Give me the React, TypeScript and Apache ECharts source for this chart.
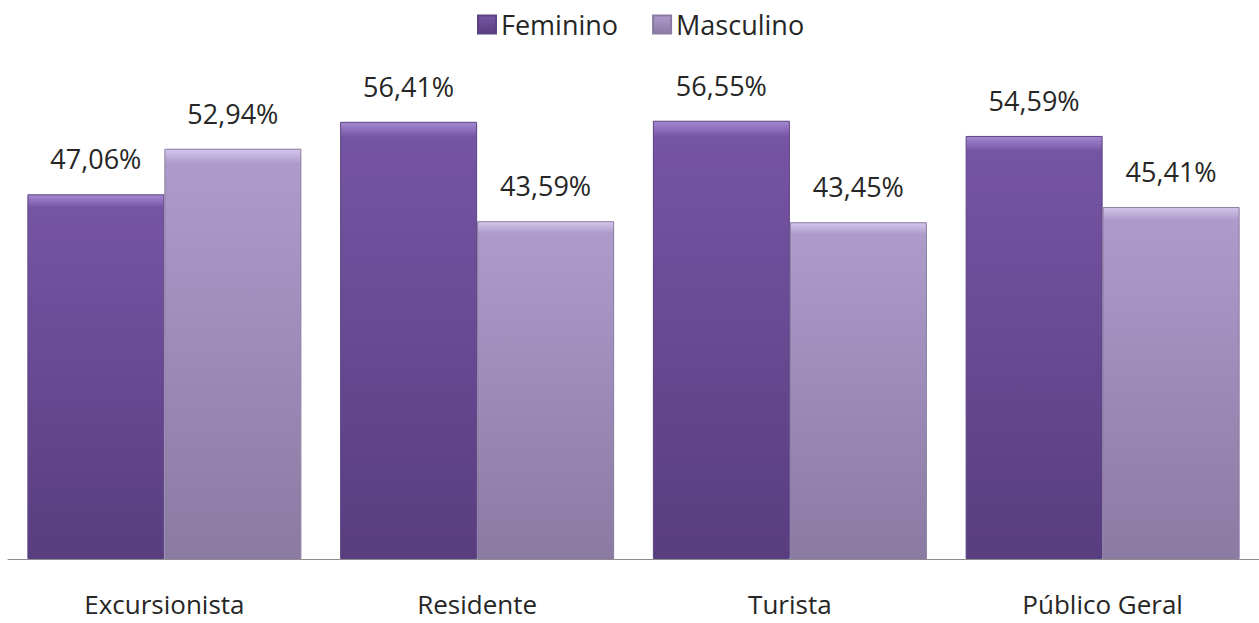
import React, { useEffect, useRef } from "react";
import * as echarts from "echarts";

const categories = ["Excursionista", "Residente", "Turista", "Público Geral"];
const feminino = [47.06, 56.41, 56.55, 54.59];
const masculino = [52.94, 43.59, 43.45, 45.41];
const seriesNames = ["Feminino", "Masculino"];

const FONT = "'Open Sans', sans-serif";

function grad(top: string, mid: string, bottom: string) {
  return new echarts.graphic.LinearGradient(0, 0, 0, 1, [
    { offset: 0, color: top },
    { offset: 0.035, color: mid },
    { offset: 1, color: bottom },
  ]);
}

export default function App() {
  const ref = useRef<HTMLDivElement>(null);
  useEffect(() => {
    if (!ref.current) return;
    const chart = echarts.init(ref.current, undefined, { renderer: "svg" });
    const fmt = (p: any) => p.value.toFixed(2).replace(".", ",") + "%";
    const label = {
      show: true,
      position: "top",
      distance: 22,
      formatter: fmt,
      fontFamily: FONT,
      fontSize: 27,
      color: "#262626",
    };
    chart.setOption({
      animation: false,
      legend: {
        top: 6,
        left: 472,
        itemWidth: 18,
        itemHeight: 18,
        itemGap: 34,
        icon: "rect",
        textStyle: { fontFamily: FONT, fontSize: 27, color: "#262626" },
        data: seriesNames,
      },
      grid: { left: 8, right: 0, top: 94, bottom: 64 },
      xAxis: {
        type: "category",
        data: categories,
        axisLine: { lineStyle: { color: "#8c8c8c", width: 1 } },
        axisTick: { show: false },
        axisLabel: {
          fontFamily: FONT,
          fontSize: 26,
          color: "#262626",
          margin: 32,
        },
      },
      yAxis: {
        type: "value",
        min: 0,
        max: 60,
        show: false,
        splitLine: { show: false },
      },
      series: [
        {
          name: seriesNames[0],
          type: "bar",
          data: feminino,
          barWidth: 137,
          barGap: "0%",
          itemStyle: {
            color: grad("#a58ad0", "#7654a4", "#583d7f"),
            borderColor: "#5b4282",
            borderWidth: 1,
          },
          label,
        },
        {
          name: seriesNames[1],
          type: "bar",
          data: masculino,
          barWidth: 137,
          barGap: "0%",
          itemStyle: {
            color: grad("#d3c6ea", "#ad9bcb", "#8b7aa2"),
            borderColor: "#8a7aa2",
            borderWidth: 1,
          },
          label,
        },
      ],
    });
    return () => chart.dispose();
  }, []);
  return (
    <div
      ref={ref}
      style={{ position: "absolute", left: 0, top: 0, width: 1259, height: 623 }}
    />
  );
}
